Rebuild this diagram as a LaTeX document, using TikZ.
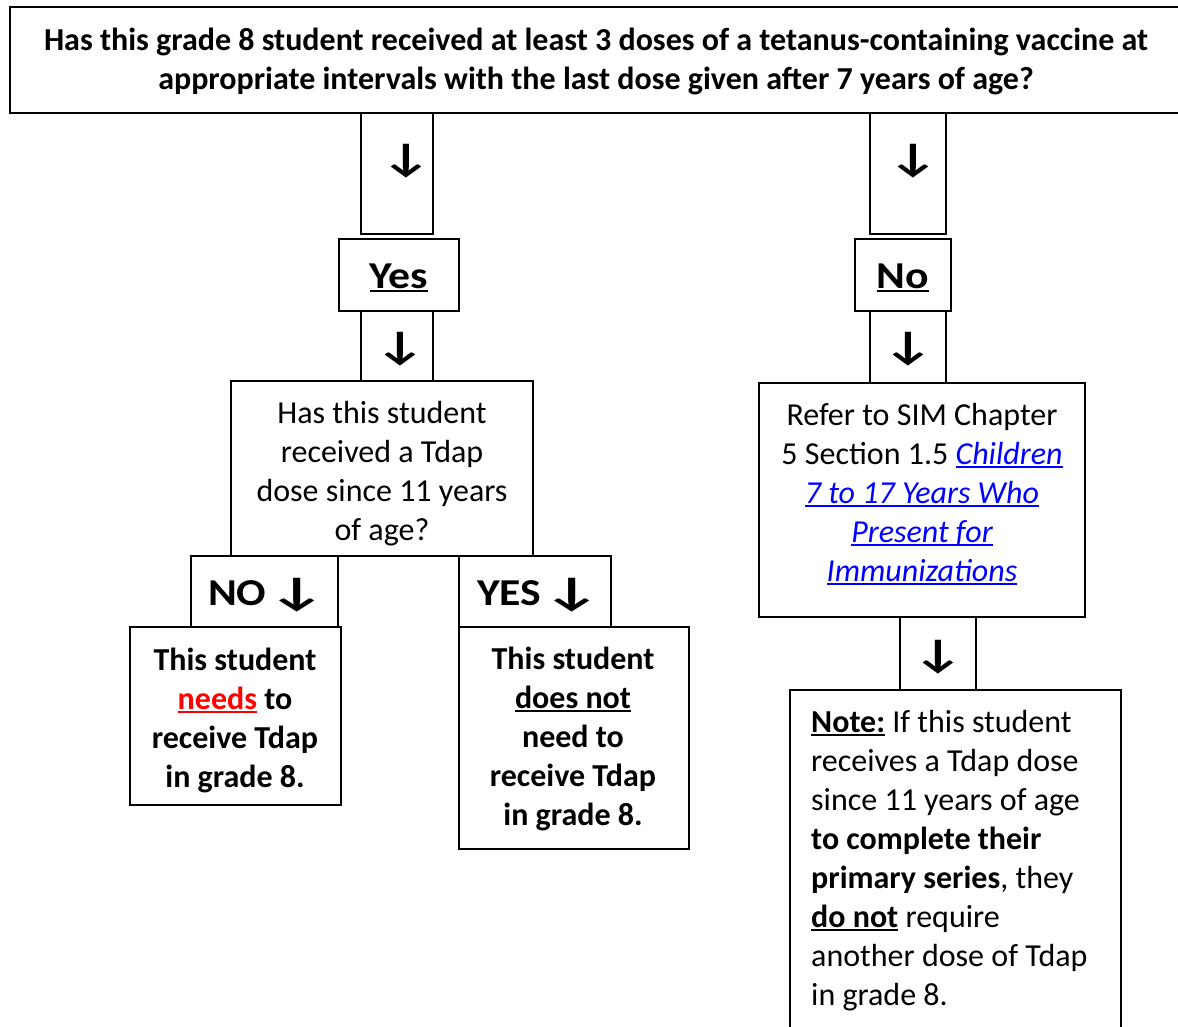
\documentclass[tikz,border=0pt]{standalone}
\usepackage{fontspec}
\usepackage{graphicx}
\setmainfont{Carlito}
\definecolor{linkblue}{RGB}{0,0,255}
\definecolor{needred}{RGB}{255,0,0}
\newsavebox\myulbox
\newcommand\myul[1]{\sbox\myulbox{#1}\rlap{\rule[-3.5pt]{\wd\myulbox}{1.8pt}}\usebox\myulbox}
\newcommand\darr{\scalebox{1.45}[1.05]{↓}}
\begin{document}
\begin{tikzpicture}[x=1pt,y=-1pt,
 boxsty/.style={draw=black, line width=1.6pt, inner sep=0pt},
 txt/.style={inner sep=0pt, align=center, font=\fontsize{32}{39}\selectfont},
 btxt/.style={txt, font=\fontsize{32}{39}\selectfont\bfseries},
 bigtxt/.style={inner sep=0pt, font=\fontsize{38}{40}\selectfont\bfseries\addfontfeature{FakeStretch=1.15}},
 arr/.style={inner sep=0pt, font=\fontsize{38}{40}\selectfont\bfseries},
]
\useasboundingbox (0,0) rectangle (1178,1027);
% boxes
\node[boxsty, minimum width=1172, minimum height=106] (title) at (596,60) {};
\node[boxsty, minimum width=72, minimum height=121] (c1L) at (397,173.5) {};
\node[boxsty, minimum width=120, minimum height=72] (yes) at (399,275) {};
\node[boxsty, minimum width=72, minimum height=70] (c2L) at (397,346) {};
\node[boxsty, minimum width=302, minimum height=175] (q) at (382,468.5) {};
\node[boxsty, minimum width=147, minimum height=71] (noB) at (264.5,591.5) {};
\node[boxsty, minimum width=152, minimum height=71] (yesB) at (535,591.5) {};
\node[boxsty, minimum width=211, minimum height=178] (needs) at (235.5,716) {};
\node[boxsty, minimum width=230, minimum height=222] (doesnot) at (574,738) {};
\node[boxsty, minimum width=76, minimum height=121] (c1R) at (908,173.5) {};
\node[boxsty, minimum width=96, minimum height=72] (noTop) at (903,275) {};
\node[boxsty, minimum width=76, minimum height=72] (c2R) at (908,347) {};
\node[boxsty, minimum width=326, minimum height=234] (refer) at (922,500) {};
\node[boxsty, minimum width=76, minimum height=73] (c3R) at (938,653.5) {};
\node[boxsty, minimum width=331, minimum height=350] (note) at (955.5,865) {};
% texts
\node[btxt] (titletxt) at (596,61)
 {Has this grade 8 student received at least 3 doses of a tetanus-containing vaccine at\\
  appropriate intervals with the last dose given after 7 years of age?};
\node[arr] (a1L) at (406,161) {\darr};
\node[arr] (a1R) at (913,161) {\darr};
\node[arr] (a2L) at (400,349) {\darr};
\node[arr] (a2R) at (908,349) {\darr};
\node[arr] (a3R) at (938,657) {\darr};
\node[bigtxt] (yestxt) at (399,278) {\myul{Yes}};
\node[bigtxt] (notxt) at (903,278) {\myul{No}};
\node[bigtxt] (noBtxt) at (267,595) {NO\hspace{2pt}\darr};
\node[bigtxt] (yesBtxt) at (539,595) {YES\hspace{2pt}\darr};
\node[txt] (qtxt) at (382,474)
 {Has this student\\ received a Tdap\\ dose since 11 years\\ of age?};
\node[btxt] (needstxt) at (235,720)
 {This student\\ {\color{needred}\myul{needs}} to\\ receive Tdap\\ in grade 8.};
\node[btxt] (doesnottxt) at (573,739)
 {This student\\ \myul{does not}\\ need to\\ receive Tdap\\ in grade 8.};
\node[txt] (refertxt) at (922,494)
 {Refer to SIM Chapter\\ 5 Section 1.5 {\color{linkblue}\itshape\myul{Children}}\\
  {\color{linkblue}\itshape\myul{7 to 17 Years Who}}\\
  {\color{linkblue}\itshape\myul{Present for}}\\
  {\color{linkblue}\itshape\myul{Immunizations}}};
\node[txt, align=left, anchor=north west] (notetxt) at (811,710)
 {\myul{\textbf{Note:}} If this student\\ receives a Tdap dose\\ since 11 years of age\\
  \textbf{to complete their}\\ \textbf{primary series}, they\\ \textbf{\myul{do not}} require\\
  another dose of Tdap\\ in grade 8.};
\end{tikzpicture}
\end{document}
